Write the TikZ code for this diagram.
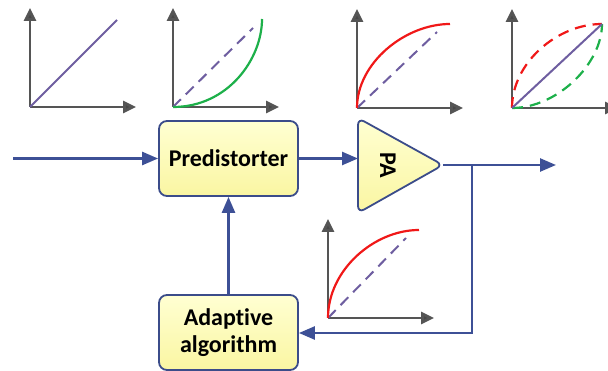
\documentclass[tikz,border=0pt]{standalone}
\usepackage{fontspec}
\setmainfont{Carlito}[Ligatures=NoCommon]
\usetikzlibrary{arrows.meta}

\definecolor{linkblue}{HTML}{3D5096}
\definecolor{boxedge}{HTML}{3B4C8A}
\definecolor{boxtop}{HTML}{FFFFD2}
\definecolor{boxbot}{HTML}{FAF6A2}
\definecolor{axisgray}{HTML}{555555}
\definecolor{ideal}{HTML}{6E5EA0}
\definecolor{curvered}{HTML}{F01818}
\definecolor{curvegreen}{HTML}{1DB04A}

\tikzset{
  block/.style={draw=boxedge, line width=1.8pt, rounded corners=8pt,
    top color=boxtop, bottom color=boxbot, inner sep=0pt,
    font=\bfseries\fontsize{24}{27}\selectfont, align=center},
  link/.style={draw=linkblue, line width=2.5pt,
    -{Triangle[length=16pt,width=13pt]}},
  axis/.style={draw=axisgray, line width=2.8pt,
    -{Triangle[length=13pt,width=12pt,fill=axisgray!85!black]}},
  linear/.style={draw=ideal, line width=2pt},
  lineardash/.style={linear, dash pattern=on 11pt off 7pt},
  concave/.style={draw=curvered, line width=2.2pt},
  convex/.style={draw=curvegreen, line width=2.2pt},
  pics/axes/.style={code={
    \draw[axis] (0,0) -- (0,-99);
    \draw[axis] (0,0) -- (106,0);
  }}
}

\begin{document}
\begin{tikzpicture}[x=1pt,y=-1pt]
\useasboundingbox (0,0) rectangle (608,371);

% --- transfer characteristics ---
% input signal: linear
\pic at (30,107) {axes};
\draw[linear] (30,107) -- ++(87,-87);

% predistorter: expanding curve
\pic at (173,107) {axes};
\draw[lineardash] (173,107) -- ++(80,-79);
\draw[convex] (173,107) .. controls ++(55,0) and ++(0,40) .. ++(89,-88);

% amplifier: compressing curve
\pic at (357,108) {axes};
\draw[lineardash] (357,108) -- ++(80,-76);
\draw[concave] (357,108) .. controls ++(0,-45) and ++(-45,0) .. ++(93,-84);

% cascade: linearised response
\pic at (512,108) {axes};
\draw[concave, dash pattern=on 11pt off 7pt] (512,108) .. controls ++(0,-45) and ++(-45,0) .. ++(90,-84);
\draw[convex, dash pattern=on 11pt off 7pt] (512,108) .. controls ++(45,0) and ++(0,40) .. ++(90,-84);
\draw[linear] (512,108) -- ++(90,-84);

% measured amplifier characteristic
\pic at (328,318) {axes};
\draw[lineardash] (328,318) -- ++(78,-80);
\draw[concave] (328,318) .. controls ++(0,-48) and ++(-45,0) .. ++(91,-88);

% --- blocks ---
\node[block, minimum width=139pt, minimum height=75pt] (pre) at (228.5,158.5) {Predistorter};
\node[block, minimum width=139pt, minimum height=75pt] (adapt) at (228.5,332.5) {Adaptive\\algorithm};

% power amplifier triangle
\coordinate (pa-top) at (358,118);
\coordinate (pa-bot) at (358,213);
\coordinate (pa-out) at (443,165);
\draw[draw=boxedge, line width=1.8pt, rounded corners=7pt, top color=boxtop, bottom color=boxbot]
  (pa-top) -- (pa-out) -- (pa-bot) -- cycle;
\node[font=\bfseries\fontsize{24}{27}\selectfont, rotate=-90] (pa) at (388,165) {PA};
\coordinate (pa-in) at (358,158.5);

% --- signal path ---
\coordinate (src) at (13,158.5);
\coordinate (sink) at (556,165);
\coordinate (tap) at (472,165);
\coordinate (fb) at (472,333);

\draw[link] (src) -- (pre.west);
\draw[link] (pre.east) -- (pa-in);
\draw[link] (pa-out) -- (sink);
\draw[link] (tap) -- (fb) -- (adapt.east |- fb);
\draw[link] (adapt.north) -- (pre.south);
\end{tikzpicture}
\end{document}
